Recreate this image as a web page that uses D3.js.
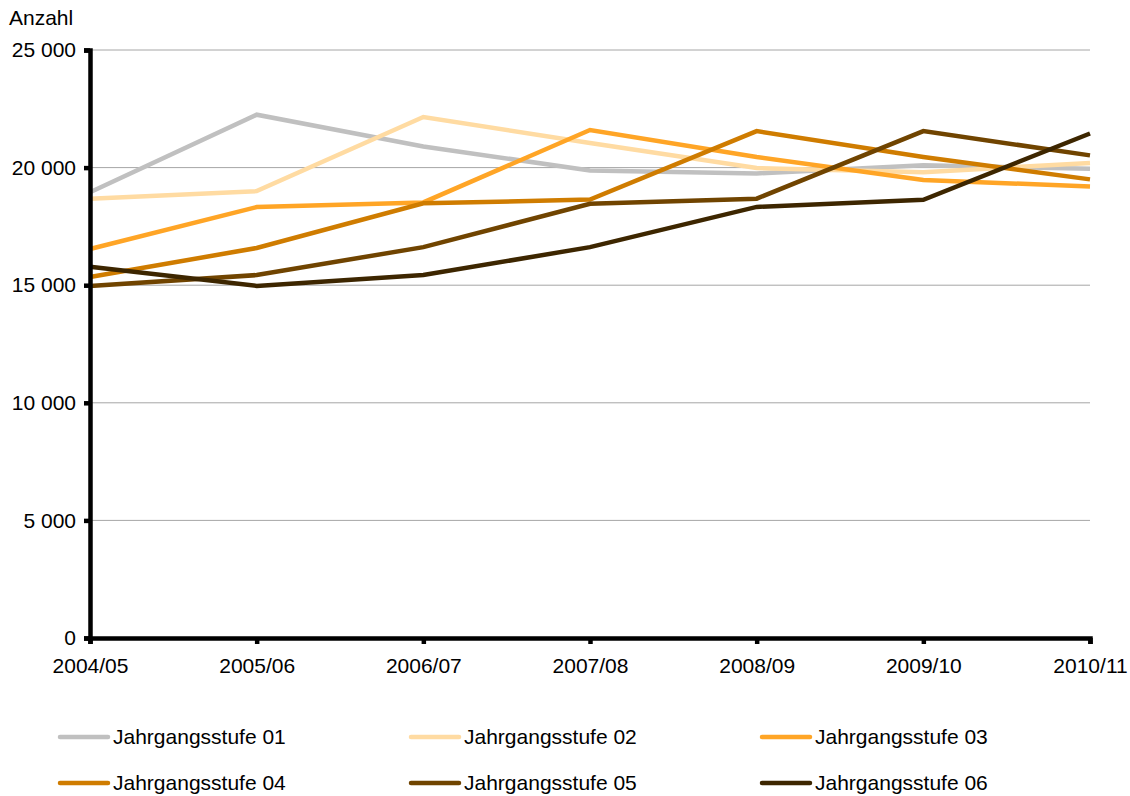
<!DOCTYPE html>
<html>
<head>
<meta charset="utf-8">
<title>Jahrgangsstufen</title>
<script src="https://cdn.jsdelivr.net/npm/d3@7"></script>
<style>
  body { margin: 0; background: #fff; }
  svg { font-family: "Liberation Sans", Arial, sans-serif; }
</style>
</head>
<body>
<div id="chart"></div>
<script>
// Schuljahre und Werte je Jahrgangsstufe
const years = ["2004/05", "2005/06", "2006/07", "2007/08", "2008/09", "2009/10", "2010/11"]
const stufe01 = [18950, 22250, 20900, 19880, 19750, 20100, 19950]
const stufe02 = [18680, 19000, 22150, 21050, 19980, 19800, 20200]
const stufe03 = [16540, 18320, 18520, 21600, 20450, 19470, 19200]
const stufe04 = [15350, 16580, 18480, 18640, 21550, 20450, 19500]
const stufe05 = [14970, 15430, 16620, 18460, 18680, 21550, 20520]
const stufe06 = [15780, 14970, 15430, 16620, 18330, 18630, 21450]
const seriesNames = ["Jahrgangsstufe 01", "Jahrgangsstufe 02", "Jahrgangsstufe 03",
                     "Jahrgangsstufe 04", "Jahrgangsstufe 05", "Jahrgangsstufe 06"]
const seriesColors = ["#c0c0c0", "#ffdba2", "#ffa526", "#cf7c00", "#704400", "#3d2600"]
const yTicks = [0, 5000, 10000, 15000, 20000, 25000]

const series = [stufe01, stufe02, stufe03, stufe04, stufe05, stufe06].map((vals, i) => ({
  name: seriesNames[i], color: seriesColors[i], values: vals
}))

const width = 1130, height = 796
const margin = {left: 90, right: 40, top: 50, bottom: 158}
const fs = 21

const svg = d3.select("#chart").append("svg")
  .attr("width", width).attr("height", height)

const x = d3.scalePoint().domain(years).range([margin.left, width - margin.right])
const y = d3.scaleLinear().domain([0, 25000]).range([height - margin.bottom, margin.top])

const fmt = d => d3.format(",")(d).replace(",", " ")

// gridlines
svg.append("g")
  .selectAll("line")
  .data(yTicks.filter(d => d > 0))
  .join("line")
  .attr("x1", margin.left).attr("x2", width - margin.right)
  .attr("y1", d => y(d)).attr("y2", d => y(d))
  .attr("stroke", "#a6a6a6").attr("stroke-width", 1)

// lines
const line = d3.line().x((d, i) => x(years[i])).y(d => y(d))
svg.append("g")
  .selectAll("path")
  .data(series)
  .join("path")
  .attr("fill", "none")
  .attr("stroke", d => d.color)
  .attr("stroke-width", 4.5)
  .attr("stroke-linejoin", "miter")
  .attr("d", d => line(d.values))

// y axis
const yAxis = svg.append("g")
  .attr("transform", `translate(${margin.left},0)`)
  .call(d3.axisLeft(y).tickValues(yTicks).tickFormat(fmt).tickSize(6).tickPadding(8))
yAxis.select(".domain").attr("stroke", "#000").attr("stroke-width", 4.5)
yAxis.selectAll(".tick line").attr("stroke", "#000").attr("stroke-width", 4.5)
yAxis.selectAll("text").attr("font-size", fs).attr("fill", "#000")

// x axis
const xAxis = svg.append("g")
  .attr("transform", `translate(0,${y(0)})`)
  .call(d3.axisBottom(x).tickSize(6).tickPadding(14))
xAxis.select(".domain").attr("stroke", "#000").attr("stroke-width", 4.5)
xAxis.selectAll(".tick line").attr("stroke", "#000").attr("stroke-width", 4.5)
xAxis.selectAll("text").attr("font-size", fs).attr("fill", "#000")

// unit label
svg.append("text")
  .attr("x", 9).attr("y", 25)
  .attr("font-size", fs)
  .text("Anzahl")

// legend
const legend = svg.append("g")
  .selectAll("g")
  .data(series)
  .join("g")
  .attr("transform", (d, i) => `translate(${60 + (i % 3) * 351},${737 + Math.floor(i / 3) * 46})`)
legend.append("line")
  .attr("x1", 0).attr("x2", 48)
  .attr("stroke", d => d.color)
  .attr("stroke-width", 4.5)
  .attr("stroke-linecap", "round")
legend.append("text")
  .attr("x", 53).attr("dy", "0.35em")
  .attr("font-size", fs)
  .text(d => d.name)
</script>
</body>
</html>
